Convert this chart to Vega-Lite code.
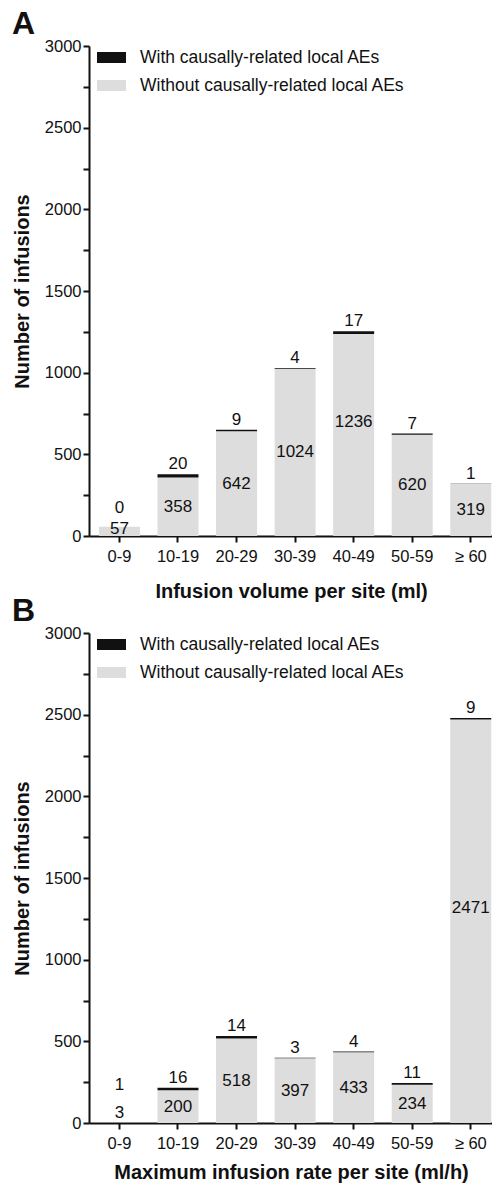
{
  "$schema": "https://vega.github.io/schema/vega-lite/v6.json",
  "background": "white",
  "padding": {"left": 12, "top": 8, "right": 0, "bottom": 0},
  "spacing": -7,
  "datasets": {
    "d": [
      {"panel": "A", "cat": "0-9", "series": "Without causally-related local AEs", "n": 57},
      {"panel": "A", "cat": "0-9", "series": "With causally-related local AEs", "n": 0},
      {"panel": "A", "cat": "10-19", "series": "Without causally-related local AEs", "n": 358},
      {"panel": "A", "cat": "10-19", "series": "With causally-related local AEs", "n": 20},
      {"panel": "A", "cat": "20-29", "series": "Without causally-related local AEs", "n": 642},
      {"panel": "A", "cat": "20-29", "series": "With causally-related local AEs", "n": 9},
      {"panel": "A", "cat": "30-39", "series": "Without causally-related local AEs", "n": 1024},
      {"panel": "A", "cat": "30-39", "series": "With causally-related local AEs", "n": 4},
      {"panel": "A", "cat": "40-49", "series": "Without causally-related local AEs", "n": 1236},
      {"panel": "A", "cat": "40-49", "series": "With causally-related local AEs", "n": 17},
      {"panel": "A", "cat": "50-59", "series": "Without causally-related local AEs", "n": 620},
      {"panel": "A", "cat": "50-59", "series": "With causally-related local AEs", "n": 7},
      {"panel": "A", "cat": "≥ 60", "series": "Without causally-related local AEs", "n": 319},
      {"panel": "A", "cat": "≥ 60", "series": "With causally-related local AEs", "n": 1},
      {"panel": "B", "cat": "0-9", "series": "Without causally-related local AEs", "n": 3},
      {"panel": "B", "cat": "0-9", "series": "With causally-related local AEs", "n": 1},
      {"panel": "B", "cat": "10-19", "series": "Without causally-related local AEs", "n": 200},
      {"panel": "B", "cat": "10-19", "series": "With causally-related local AEs", "n": 16},
      {"panel": "B", "cat": "20-29", "series": "Without causally-related local AEs", "n": 518},
      {"panel": "B", "cat": "20-29", "series": "With causally-related local AEs", "n": 14},
      {"panel": "B", "cat": "30-39", "series": "Without causally-related local AEs", "n": 397},
      {"panel": "B", "cat": "30-39", "series": "With causally-related local AEs", "n": 3},
      {"panel": "B", "cat": "40-49", "series": "Without causally-related local AEs", "n": 433},
      {"panel": "B", "cat": "40-49", "series": "With causally-related local AEs", "n": 4},
      {"panel": "B", "cat": "50-59", "series": "Without causally-related local AEs", "n": 234},
      {"panel": "B", "cat": "50-59", "series": "With causally-related local AEs", "n": 11},
      {"panel": "B", "cat": "≥ 60", "series": "Without causally-related local AEs", "n": 2471},
      {"panel": "B", "cat": "≥ 60", "series": "With causally-related local AEs", "n": 9}
    ]
  },
  "config": {
    "view": {"stroke": null},
    "font": "Liberation Sans",
    "axis": {
      "grid": false,
      "domainColor": "#111111",
      "domainWidth": 2,
      "tickColor": "#111111",
      "tickWidth": 2,
      "labelFont": "Liberation Sans",
      "labelFontSize": 16.5,
      "labelColor": "#111111",
      "titleFont": "Liberation Sans",
      "titleFontSize": 20,
      "titleFontWeight": "bold",
      "titleColor": "#111111"
    },
    "legend": {
      "orient": "none",
      "legendX": 8,
      "legendY": -3,
      "title": null,
      "symbolType": "M-1,-0.38L1,-0.38L1,0.38L-1,0.38Z",
      "symbolSize": 841,
      "symbolStrokeWidth": 0,
      "symbolOpacity": 1,
      "labelFont": "Liberation Sans",
      "labelFontSize": 17.5,
      "labelColor": "#111111",
      "labelOffset": 14,
      "rowPadding": 5,
      "padding": 0,
      "labelLimit": 400
    }
  },
  "resolve": {"scale": {"color": "independent", "x": "independent", "y": "independent"}},
  "vconcat": [
    {
      "width": 404,
      "height": 490,
      "title": {"text": "A", "anchor": "start", "frame": "group", "fontSize": 32, "fontWeight": "bold", "font": "Liberation Sans", "color": "#111111", "dx": -77, "baseline": "alphabetic", "offset": -28},
      "data": {"name": "d"},
      "transform": [
        {"filter": "datum.panel === 'A'"},
        {"stack": "n", "groupby": ["cat"], "sort": [{"field": "series", "order": "descending"}], "as": ["y0", "y1"]}
      ],
      "encoding": {
        "x": {
          "field": "cat", "type": "nominal",
          "sort": ["0-9", "10-19", "20-29", "30-39", "40-49", "50-59", "≥ 60"],
          "scale": {"paddingInner": 0.3, "paddingOuter": 0.1, "align": 0.85},
          "axis": {"title": "Infusion volume per site (ml)", "labelAngle": 0, "tickSize": 6, "labelPadding": 6, "titlePadding": 17}
        }
      },
      "layer": [
        {
          "mark": {"type": "bar"},
          "encoding": {
            "y": {
              "field": "y1", "type": "quantitative",
              "scale": {"domain": [0, 3000]},
              "axis": {
                "title": "Number of infusions",
                "values": [0, 250, 500, 750, 1000, 1250, 1500, 1750, 2000, 2250, 2500, 2750, 3000],
                "format": "d",
                "labelExpr": "datum.value % 500 === 0 ? datum.label : ''",
                "tickSize": 6,
                "encode": {"ticks": {"update": {"x2": {"signal": "datum.value % 500 === 0 ? -6 : -3"}}}},
                "labelPadding": 2,
                "titlePadding": 12
              }
            },
            "y2": {"field": "y0"},
            "color": {
              "field": "series", "type": "nominal",
              "scale": {"domain": ["With causally-related local AEs", "Without causally-related local AEs"], "range": ["#111111", "#dddddd"]}
            }
          }
        },
        {
          "transform": [{"filter": "datum.series === 'With causally-related local AEs'"}],
          "mark": {"type": "text", "baseline": "alphabetic", "fontSize": 17, "font": "Liberation Sans", "color": "#111111", "dy": {"expr": "datum.y0 < 10 ? -32 : datum.y0 < 100 ? -14 : -5"}},
          "encoding": {
            "y": {"field": "y1", "type": "quantitative", "scale": {"domain": [0, 3000]}, "axis": null},
            "text": {"field": "n", "type": "quantitative", "format": "d"}
          }
        },
        {
          "transform": [{"filter": "datum.series === 'Without causally-related local AEs'"}],
          "mark": {"type": "text", "baseline": "middle", "fontSize": 17, "font": "Liberation Sans", "color": "#111111", "dy": {"expr": "datum.n < 10 ? -10 : datum.n < 100 ? -2 : datum.n > 1100 ? -13 : 0"}},
          "encoding": {
            "y": {"field": "n", "type": "quantitative", "scale": {"domain": [0, 6000]}, "axis": null},
            "text": {"field": "n", "type": "quantitative", "format": "d"}
          }
        }
      ],
      "resolve": {"scale": {"y": "independent"}}
    },
    {
      "width": 404,
      "height": 490,
      "title": {"text": "B", "anchor": "start", "frame": "group", "fontSize": 32, "fontWeight": "bold", "font": "Liberation Sans", "color": "#111111", "dx": -77, "baseline": "alphabetic", "offset": -28},
      "data": {"name": "d"},
      "transform": [
        {"filter": "datum.panel === 'B'"},
        {"stack": "n", "groupby": ["cat"], "sort": [{"field": "series", "order": "descending"}], "as": ["y0", "y1"]}
      ],
      "encoding": {
        "x": {
          "field": "cat", "type": "nominal",
          "sort": ["0-9", "10-19", "20-29", "30-39", "40-49", "50-59", "≥ 60"],
          "scale": {"paddingInner": 0.3, "paddingOuter": 0.1, "align": 0.85},
          "axis": {"title": "Maximum infusion rate per site (ml/h)", "labelAngle": 0, "tickSize": 6, "labelPadding": 6, "titlePadding": 11}
        }
      },
      "layer": [
        {
          "mark": {"type": "bar"},
          "encoding": {
            "y": {
              "field": "y1", "type": "quantitative",
              "scale": {"domain": [0, 3000]},
              "axis": {
                "title": "Number of infusions",
                "values": [0, 250, 500, 750, 1000, 1250, 1500, 1750, 2000, 2250, 2500, 2750, 3000],
                "format": "d",
                "labelExpr": "datum.value % 500 === 0 ? datum.label : ''",
                "tickSize": 6,
                "encode": {"ticks": {"update": {"x2": {"signal": "datum.value % 500 === 0 ? -6 : -3"}}}},
                "labelPadding": 2,
                "titlePadding": 12
              }
            },
            "y2": {"field": "y0"},
            "color": {
              "field": "series", "type": "nominal",
              "scale": {"domain": ["With causally-related local AEs", "Without causally-related local AEs"], "range": ["#111111", "#dddddd"]}
            }
          }
        },
        {
          "transform": [{"filter": "datum.series === 'With causally-related local AEs'"}],
          "mark": {"type": "text", "baseline": "alphabetic", "fontSize": 17, "font": "Liberation Sans", "color": "#111111", "dy": {"expr": "datum.y0 < 10 ? -32 : datum.y0 < 100 ? -14 : -5"}},
          "encoding": {
            "y": {"field": "y1", "type": "quantitative", "scale": {"domain": [0, 3000]}, "axis": null},
            "text": {"field": "n", "type": "quantitative", "format": "d"}
          }
        },
        {
          "transform": [{"filter": "datum.series === 'Without causally-related local AEs'"}],
          "mark": {"type": "text", "baseline": "middle", "fontSize": 17, "font": "Liberation Sans", "color": "#111111", "dy": {"expr": "datum.n < 10 ? -10 : datum.n < 100 ? -2 : datum.n > 1100 ? -13 : 0"}},
          "encoding": {
            "y": {"field": "n", "type": "quantitative", "scale": {"domain": [0, 6000]}, "axis": null},
            "text": {"field": "n", "type": "quantitative", "format": "d"}
          }
        }
      ],
      "resolve": {"scale": {"y": "independent"}}
    }
  ]
}
